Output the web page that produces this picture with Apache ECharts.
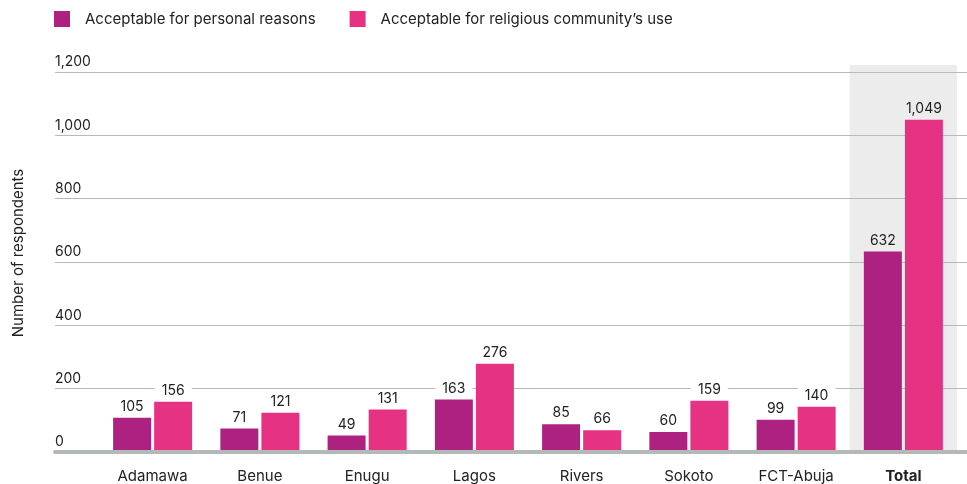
<!DOCTYPE html>
<html><head><meta charset="utf-8">
<script src="https://cdn.jsdelivr.net/npm/echarts@6/dist/echarts.min.js"></script>
<style>html,body{margin:0;padding:0;background:#fff}#c{width:967px;height:484px}</style>
</head><body><div id="c"></div>
<script>
const categories = ['Adamawa','Benue','Enugu','Lagos','Rivers','Sokoto','FCT-Abuja','Total'];
const personal = [105,71,49,163,85,60,99,632];
const community = [156,121,131,276,66,159,140,1049];
const seriesNames = ['Acceptable for personal reasons','Acceptable for religious community\u2019s use'];
const yTicks = {min:0, max:1200, interval:200};

const FONT = 'Inter';
const colors = ['#AD2280','#E63282'];
const fmt = v => Number(v).toLocaleString('en-US');

function mkData(arr){
  return arr.map((v,i)=>({
    value:v,
    label: categories[i]==='Total' ? {backgroundColor:'transparent'} : {}
  }));
}
// grid geometry
const g1Top=72, bottom=32, h=484-g1Top-bottom;
const g2Top=65, g2Max = yTicks.max*(484-g2Top-bottom)/h;

const chart = echarts.init(document.getElementById('c'));
chart.setOption({
  animation:false,
  textStyle:{fontFamily:FONT},
  legend:{
    left:49, top:6, itemWidth:16, itemHeight:16, itemGap:34, icon:'rect',
    textStyle:{fontSize:15, color:'#222', fontFamily:FONT, padding:[0,0,0,10]},
    data: seriesNames
  },
  grid:[
    {left:55, right:0, top:g1Top, bottom:bottom},
    {left:99, right:10, top:g2Top, bottom:bottom}
  ],
  xAxis:[
    {gridIndex:0, type:'value', min:0, max:1, axisLabel:{show:false}, splitLine:{show:false}, axisTick:{show:false},
     axisLine:{show:true, lineStyle:{color:'#B3B9B7', width:4}}, z:3},
    {gridIndex:1, type:'category', data:categories, z:-1,
     axisLine:{show:false}, axisTick:{show:false},
     axisLabel:{margin:18, fontSize:15, color:'#222', fontFamily:FONT,
       formatter: v => v==='Total' ? '{b|'+v+'}' : v,
       rich:{b:{fontWeight:'bold', fontSize:15, color:'#222', fontFamily:FONT}}},
     splitArea:{show:true, areaStyle:{color:['rgba(0,0,0,0)','rgba(0,0,0,0)','rgba(0,0,0,0)','rgba(0,0,0,0)','rgba(0,0,0,0)','rgba(0,0,0,0)','rgba(0,0,0,0)','#ECECEC']}}}
  ],
  yAxis:[
    {gridIndex:0, type:'value', min:yTicks.min, max:yTicks.max, interval:yTicks.interval,
     name:'Number of respondents', nameLocation:'middle', nameRotate:90, nameGap:29,
     nameTextStyle:{fontSize:15, color:'#222', fontFamily:FONT, padding:[0,0,0,18]},
     axisLine:{show:false}, axisTick:{show:false},
     axisLabel:{inside:true, margin:0, align:'left', verticalAlign:'bottom', padding:[0,0,3,0],
       fontSize:14, color:'#222', fontFamily:FONT, formatter: v => fmt(v)},
     splitLine:{show:true, lineStyle:{color:'#B3BCB9', width:1}}},
    {gridIndex:1, type:'value', min:0, max:g2Max, show:false, splitLine:{show:false}}
  ],
  series:[
    {name:seriesNames[0], type:'bar', xAxisIndex:1, yAxisIndex:1, data:mkData(personal),
     barWidth:38, barGap:'8%', itemStyle:{color:colors[0]},
     label:{show:true, position:'top', distance:3, fontSize:14, color:'#222', fontFamily:FONT,
       backgroundColor:'#fff', padding:[1,7,1,7], formatter:p=>fmt(p.value)}},
    {name:seriesNames[1], type:'bar', xAxisIndex:1, yAxisIndex:1, data:mkData(community),
     barWidth:38, barGap:'8%', itemStyle:{color:colors[1]},
     label:{show:true, position:'top', distance:3, fontSize:14, color:'#222', fontFamily:FONT,
       backgroundColor:'#fff', padding:[1,7,1,7], formatter:p=>fmt(p.value)}}
  ]
});
</script></body></html>
